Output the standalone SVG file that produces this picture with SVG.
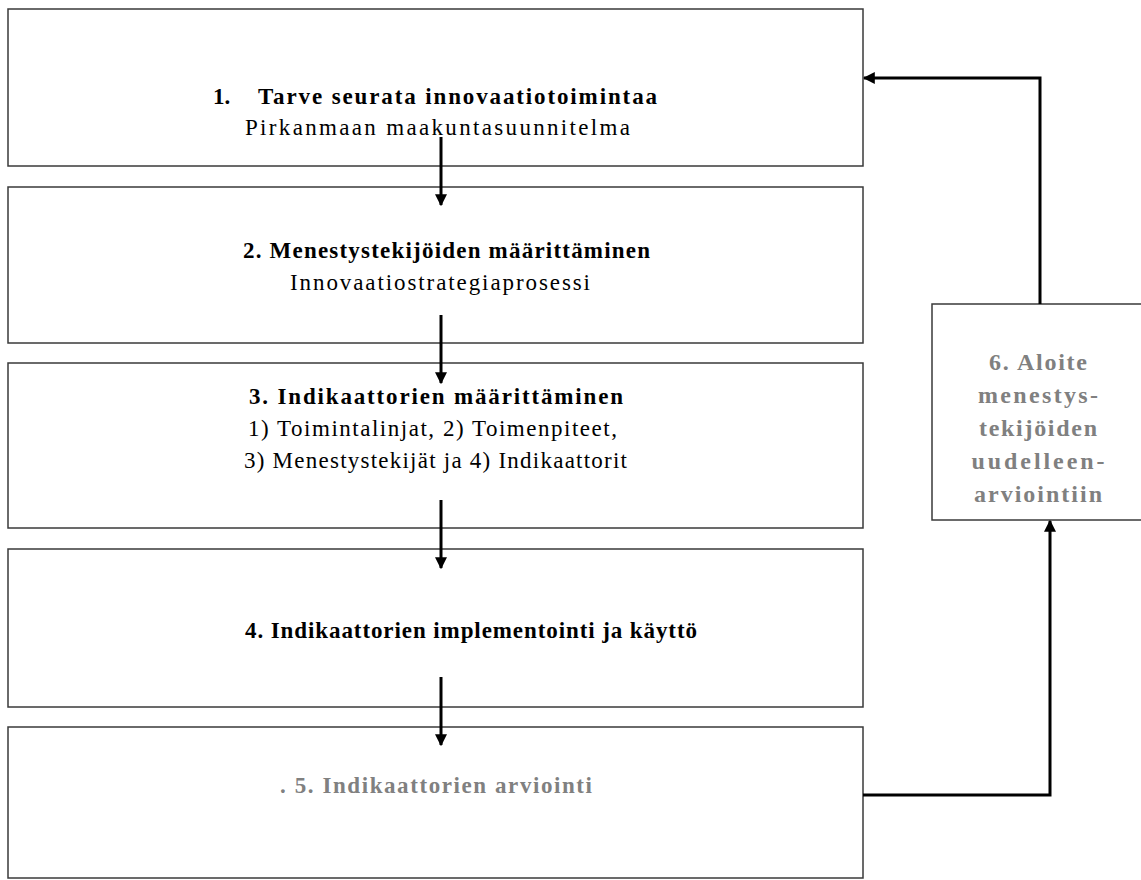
<svg xmlns="http://www.w3.org/2000/svg" width="1141" height="880" viewBox="0 0 1141 880">
<style>
.box{fill:#fff;stroke:#3a3a3a;stroke-width:1.5}
.t{font-family:"Liberation Serif",serif;font-size:23px;fill:#000}
.b{font-weight:bold}
.g{fill:#808080;font-weight:bold}
.s6{font-size:24px}
.c{stroke:#000;stroke-width:3;fill:none}
</style>
<defs>
<marker id="ah" viewBox="0 0 10 10" refX="9" refY="5" markerWidth="4" markerHeight="4" orient="auto" markerUnits="strokeWidth">
<path d="M0,0 L10,5 L0,10 z" fill="#000"/>
</marker>
</defs>
<g id="node1">
<rect class="box" x="8" y="9" width="855" height="157"/>
<text class="t b" x="213" y="104">1.</text>
<text class="t b" x="258" y="104" textLength="399" lengthAdjust="spacing">Tarve seurata innovaatiotoimintaa</text>
<text class="t" x="245" y="135" textLength="385" lengthAdjust="spacing">Pirkanmaan maakuntasuunnitelma</text>
</g>
<g id="node2">
<rect class="box" x="8" y="187" width="855" height="156"/>
<text class="t b" x="243" y="258" textLength="407" lengthAdjust="spacing">2. Menestystekijöiden määrittäminen</text>
<text class="t" x="290" y="290" textLength="300" lengthAdjust="spacing">Innovaatiostrategiaprosessi</text>
</g>
<g id="node3">
<rect class="box" x="8" y="363" width="855" height="165"/>
<text class="t b" x="249" y="404" textLength="374" lengthAdjust="spacing">3. Indikaattorien määrittäminen</text>
<text class="t" x="248" y="436" textLength="369" lengthAdjust="spacing">1) Toimintalinjat, 2) Toimenpiteet,</text>
<text class="t" x="244" y="468" textLength="383" lengthAdjust="spacing">3) Menestystekijät ja 4) Indikaattorit</text>
</g>
<g id="node4">
<rect class="box" x="8" y="549" width="855" height="158"/>
<text class="t b" x="245" y="638" textLength="452" lengthAdjust="spacing">4. Indikaattorien implementointi ja käyttö</text>
</g>
<g id="node5">
<rect class="box" x="8" y="727" width="855" height="151"/>
<text class="t g" x="280" y="793" textLength="312" lengthAdjust="spacing">. 5. Indikaattorien arviointi</text>
</g>
<g id="node6">
<rect class="box" x="932" y="304" width="215" height="216"/>
<text class="t g s6" x="1038" y="370" text-anchor="middle" textLength="98" lengthAdjust="spacing">6. Aloite</text>
<text class="t g s6" x="1038" y="403" text-anchor="middle" textLength="120" lengthAdjust="spacing">menestys-</text>
<text class="t g s6" x="1038" y="436" text-anchor="middle" textLength="118" lengthAdjust="spacing">tekijöiden</text>
<text class="t g s6" x="1038" y="469" text-anchor="middle" textLength="133" lengthAdjust="spacing">uudelleen-</text>
<text class="t g s6" x="1038" y="502" text-anchor="middle" textLength="128" lengthAdjust="spacing">arviointiin</text>
</g>
<g id="connectors">
<line class="c" x1="441" y1="137" x2="441" y2="205" marker-end="url(#ah)"/>
<line class="c" x1="441" y1="315" x2="441" y2="383" marker-end="url(#ah)"/>
<line class="c" x1="441" y1="500" x2="441" y2="568" marker-end="url(#ah)"/>
<line class="c" x1="441" y1="677" x2="441" y2="745" marker-end="url(#ah)"/>
<polyline class="c" points="1040,304 1040,78 864,78" marker-end="url(#ah)"/>
<polyline class="c" points="863,795 1050,795 1050,521" marker-end="url(#ah)"/>
</g>
</svg>
